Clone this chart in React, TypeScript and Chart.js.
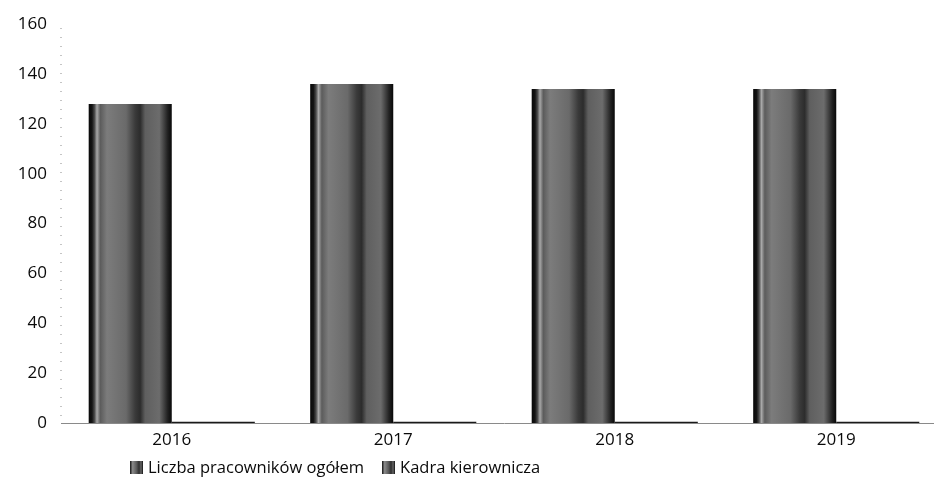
import React, { useEffect, useRef } from "react";
import { Chart, registerables } from "chart.js";

Chart.register(...registerables);

const years = ["2016", "2017", "2018", "2019"];
const totalStaff = [128, 136, 134, 134];
const managers = [0.5, 0.5, 0.5, 0.5];
const yTicks = [0, 20, 40, 60, 80, 100, 120, 140, 160];
const seriesNames = ["Liczba pracowników ogółem", "Kadra kierownicza"];

const FONT = "'Open Sans', 'DejaVu Sans', sans-serif";
const CAT_PCT = 0.75;

function barFill(ctx: any, datasetIndex: number) {
  const chart = ctx.chart;
  const xs = chart.scales?.x;
  if (!xs || ctx.dataIndex === undefined) return "#5e5e5e";
  const center = xs.getPixelForValue(ctx.dataIndex);
  const catW = xs.width / years.length;
  const bw = (catW * CAT_PCT) / 2;
  const x0 = datasetIndex === 0 ? center - bw : center;
  if (!Number.isFinite(x0) || !Number.isFinite(bw) || bw <= 0) return "#5e5e5e";
  const g = chart.ctx.createLinearGradient(x0, 0, x0 + bw, 0);
  g.addColorStop(0, "#080808");
  g.addColorStop(0.04, "#141414");
  g.addColorStop(0.07, "#4a4a4a");
  g.addColorStop(0.1, "#a8a8a8");
  g.addColorStop(0.14, "#5c5c5c");
  g.addColorStop(0.22, "#7c7c7c");
  g.addColorStop(0.45, "#6a6a6a");
  g.addColorStop(0.56, "#3a3a3a");
  g.addColorStop(0.62, "#2c2c2c");
  g.addColorStop(0.68, "#5f5f5f");
  g.addColorStop(0.85, "#6c6c6c");
  g.addColorStop(0.95, "#222222");
  g.addColorStop(1, "#080808");
  return g;
}

const dottedYAxis = {
  id: "dottedYAxis",
  beforeDatasetsDraw(chart: any) {
    const ys = chart.scales.y;
    const { ctx } = chart;
    const x = Math.round(ys.right) - 0.5;
    ctx.save();
    ctx.fillStyle = "#8a8a8a";
    for (let y = Math.round(ys.top) + 4; y < ys.bottom; y += 9) {
      ctx.fillRect(x, y, 1, 1);
    }
    ctx.restore();
  },
};

export default function App() {
  const ref = useRef<HTMLCanvasElement | null>(null);

  useEffect(() => {
    document.body.style.margin = "0";
    document.body.style.overflow = "hidden";
    const canvas = ref.current;
    if (!canvas) return;
    const chart = new Chart(canvas, {
      type: "bar",
      data: {
        labels: years,
        datasets: [
          {
            label: seriesNames[0],
            data: totalStaff,
            backgroundColor: (c: any) => barFill(c, 0),
            borderWidth: 0,
          },
          {
            label: seriesNames[1],
            data: managers,
            backgroundColor: "#1a1a1a",
            borderWidth: 0,
          },
        ],
      },
      plugins: [dottedYAxis],
      options: {
        animation: false,
        responsive: false,
        devicePixelRatio: 1,
        layout: { padding: { top: 22, right: 13, bottom: 0, left: 0 } },
        datasets: {
          bar: { categoryPercentage: CAT_PCT, barPercentage: 1 },
        },
        plugins: {
          legend: { display: false },
          tooltip: { enabled: false },
        },
        scales: {
          x: {
            grid: { display: false, drawTicks: false },
            border: { display: true, color: "#8a8a8a", width: 1 },
            ticks: {
              font: { family: FONT, size: 17 },
              color: "#0a0a0a",
              padding: 7,
            },
            afterFit: (s: any) => {
              s.height = 74;
            },
          },
          y: {
            min: 0,
            max: 160,
            afterBuildTicks: (s: any) => {
              s.ticks = yTicks.map((v) => ({ value: v }));
            },
            grid: { display: false, drawTicks: false },
            border: { display: false },
            ticks: {
              font: { family: FONT, size: 17 },
              color: "#0a0a0a",
              padding: 14,
            },
            afterFit: (s: any) => {
              s.width = 61;
            },
          },
        },
      },
    });
    return () => chart.destroy();
  }, []);

  const box = (key: string) => (
    <span
      key={key}
      style={{
        display: "inline-block",
        width: 13,
        height: 13,
        background:
          "linear-gradient(90deg, #111 0%, #8a8a8a 20%, #5a5a5a 50%, #2e2e2e 70%, #666 85%, #111 100%)",
        marginRight: 5,
        verticalAlign: "-1px",
      }}
    />
  );

  return (
    <div
      style={{
        position: "relative",
        width: 934,
        height: 497,
        overflow: "hidden",
        background: "#ffffff",
      }}
    >
      <canvas ref={ref} width={960} height={497} style={{ display: "block" }} />
      <div
        style={{
          position: "absolute",
          left: 130,
          top: 456,
          fontFamily: FONT,
          fontSize: 16.5,
          color: "#0a0a0a",
          whiteSpace: "nowrap",
          lineHeight: "22px",
        }}
      >
        {box("b1")}
        <span style={{ marginRight: 18 }}>{seriesNames[0]}</span>
        {box("b2")}
        <span>{seriesNames[1]}</span>
      </div>
    </div>
  );
}
